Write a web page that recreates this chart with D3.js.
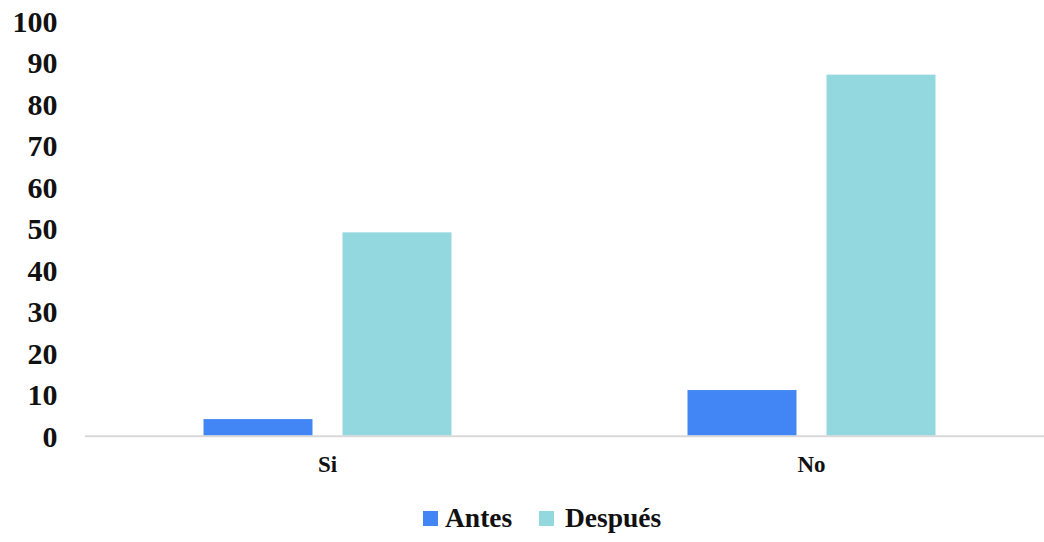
<!DOCTYPE html>
<html><head><meta charset="utf-8">
<script src="https://cdn.jsdelivr.net/npm/d3@7"></script>
<style>body{margin:0;background:#fff}svg{display:block}text{font-family:"Liberation Serif","Times New Roman",serif;font-weight:bold;fill:#111}</style>
</head><body><svg id="c" width="1044" height="542"></svg>
<script>
const categories = ["Si", "No"];
const seriesNames = ["Antes", "Después"];
const antes = [4, 11];
const despues = [49, 87];
const yTicks = [0, 10, 20, 30, 40, 50, 60, 70, 80, 90, 100];
const colors = ["#4285F4", "#93D8DE"];

const svg = d3.select("#c");
const y = d3.scaleLinear().domain([0, 100]).range([435.7, 20.7]);
const x = d3.scaleBand().domain(categories).range([85.5, 1053.5]).paddingInner(0).paddingOuter(0);
const xs = d3.scaleBand().domain(seriesNames).range([118, 366]).paddingInner(30 / 139);

// y axis labels
const yAxis = d3.axisLeft(y).tickValues(yTicks).tickSize(0).tickPadding(0);
const gy = svg.append("g").attr("transform", "translate(57.5,0)").call(yAxis);
gy.select(".domain").remove();
gy.selectAll("text").style("font-size", "30px").style("font-family", '"Liberation Serif",serif').style("font-weight", "bold").attr("fill", "#111").attr("dy", "0.35em");

// bars
const data = categories.map((c, i) => ({ c, vals: [antes[i], despues[i]] }));
const g = svg.append("g");
data.forEach(d => {
  d.vals.forEach((v, j) => {
    g.append("rect")
      .attr("x", x(d.c) + xs(seriesNames[j]))
      .attr("width", xs.bandwidth())
      .attr("y", y(v))
      .attr("height", y(0) - y(v))
      .attr("fill", colors[j]);
  });
});

// x axis line
svg.append("line").attr("x1", 85).attr("x2", 1044).attr("y1", y(0) + 0.5).attr("y2", y(0) + 0.5)
  .attr("stroke", "#d9d9d9").attr("stroke-width", 2);

// x labels
const xAxis = d3.axisBottom(x).tickSize(0).tickPadding(0);
const gx = svg.append("g").attr("transform", "translate(0,472)").call(xAxis);
gx.select(".domain").remove();
gx.selectAll("text").attr("dy", 0).style("font-size", "23px").style("font-family", '"Liberation Serif",serif').style("font-weight", "bold").attr("fill", "#111");

// legend
const legend = [{ n: seriesNames[0], x: 423, tx: 445 }, { n: seriesNames[1], x: 539, tx: 565 }];
legend.forEach((l, i) => {
  svg.append("rect").attr("x", l.x).attr("y", 511).attr("width", 15).attr("height", 15).attr("fill", colors[i]);
  svg.append("text").attr("x", l.tx).attr("y", 527).style("font-size", "27.5px").text(l.n);
});
</script></body></html>
